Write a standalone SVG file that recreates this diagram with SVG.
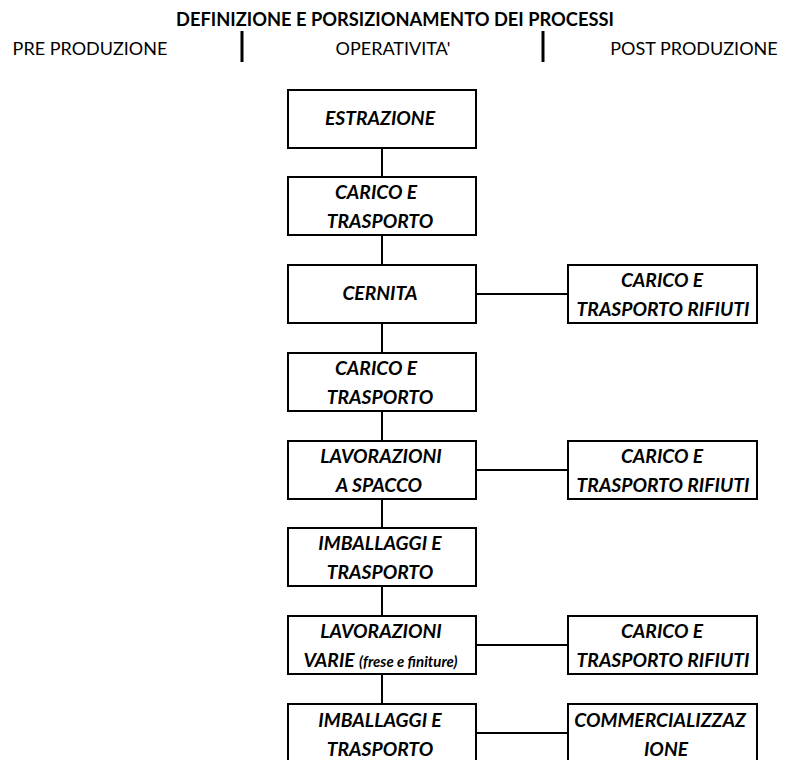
<svg xmlns="http://www.w3.org/2000/svg" width="788" height="760" viewBox="0 0 788 760">
<style>
text { font-family: Lato, "Open Sans", sans-serif; fill: #000; }
.title { font-weight: bold; font-size: 18.3px; text-anchor: middle; }
.sub { font-size: 18px; text-anchor: middle; }
.node rect { fill: #fff; stroke: #000; stroke-width: 2; }
.lbl { font-weight: bold; font-style: italic; font-size: 19.3px; text-anchor: middle; }
.small { font-size: 15px; }
.conn line { stroke: #000; stroke-width: 2; }
.bar { stroke: #000; stroke-width: 3; }
</style>
<rect width="788" height="760" fill="#fff"/>
<g id="header">
  <text class="title" x="395" y="26">DEFINIZIONE E PORSIZIONAMENTO DEI PROCESSI</text>
  <text class="sub" x="90" y="55">PRE PRODUZIONE</text>
  <text class="sub" x="393" y="55">OPERATIVITA'</text>
  <text class="sub" x="694" y="55">POST PRODUZIONE</text>
  <line class="bar" x1="242" y1="31" x2="242" y2="62"/>
  <line class="bar" x1="543" y1="31" x2="543" y2="62"/>
</g>
<g id="connectors" class="conn">
  <line x1="382" y1="148" x2="382" y2="177"/>
  <line x1="382" y1="235" x2="382" y2="265"/>
  <line x1="382" y1="323" x2="382" y2="353"/>
  <line x1="382" y1="411" x2="382" y2="441"/>
  <line x1="382" y1="499" x2="382" y2="528"/>
  <line x1="382" y1="586" x2="382" y2="616"/>
  <line x1="382" y1="674" x2="382" y2="704"/>
  <line x1="476" y1="294" x2="568" y2="294"/>
  <line x1="476" y1="470" x2="568" y2="470"/>
  <line x1="476" y1="645" x2="568" y2="645"/>
  <line x1="476" y1="733" x2="568" y2="733"/>
</g>
<g id="estrazione" class="node">
  <rect x="288" y="90" width="188" height="58"/>
  <text class="lbl" x="380" y="125">ESTRAZIONE</text>
</g>
<g id="carico1" class="node">
  <rect x="288" y="177" width="188" height="58"/>
  <text class="lbl" x="376" y="199">CARICO E</text>
  <text class="lbl" x="380" y="228">TRASPORTO</text>
</g>
<g id="cernita" class="node">
  <rect x="288" y="265" width="188" height="58"/>
  <text class="lbl" x="380" y="300">CERNITA</text>
</g>
<g id="rifiuti1" class="node">
  <rect x="568" y="265" width="189" height="58"/>
  <text class="lbl" x="662" y="287">CARICO E</text>
  <text class="lbl" x="663" y="316">TRASPORTO RIFIUTI</text>
</g>
<g id="carico2" class="node">
  <rect x="288" y="353" width="188" height="58"/>
  <text class="lbl" x="376" y="375">CARICO E</text>
  <text class="lbl" x="380" y="404">TRASPORTO</text>
</g>
<g id="spacco" class="node">
  <rect x="288" y="441" width="188" height="58"/>
  <text class="lbl" x="381" y="463">LAVORAZIONI</text>
  <text class="lbl" x="379" y="492">A SPACCO</text>
</g>
<g id="rifiuti2" class="node">
  <rect x="568" y="441" width="189" height="58"/>
  <text class="lbl" x="662" y="463">CARICO E</text>
  <text class="lbl" x="663" y="492">TRASPORTO RIFIUTI</text>
</g>
<g id="imballaggi1" class="node">
  <rect x="288" y="528" width="188" height="58"/>
  <text class="lbl" x="380" y="550">IMBALLAGGI E</text>
  <text class="lbl" x="380" y="579">TRASPORTO</text>
</g>
<g id="varie" class="node">
  <rect x="288" y="616" width="188" height="58"/>
  <text class="lbl" x="381" y="638">LAVORAZIONI</text>
  <text class="lbl" x="380.5" y="667">VARIE <tspan class="small">(frese e finiture)</tspan></text>
</g>
<g id="rifiuti3" class="node">
  <rect x="568" y="616" width="189" height="58"/>
  <text class="lbl" x="662" y="638">CARICO E</text>
  <text class="lbl" x="663" y="667">TRASPORTO RIFIUTI</text>
</g>
<g id="imballaggi2" class="node">
  <rect x="288" y="704" width="188" height="70"/>
  <text class="lbl" x="380" y="727">IMBALLAGGI E</text>
  <text class="lbl" x="380" y="756">TRASPORTO</text>
</g>
<g id="commercializzazione" class="node">
  <rect x="568" y="704" width="189" height="70"/>
  <text class="lbl" x="660" y="727">COMMERCIALIZZAZ</text>
  <text class="lbl" x="666" y="756">IONE</text>
</g>
</svg>
